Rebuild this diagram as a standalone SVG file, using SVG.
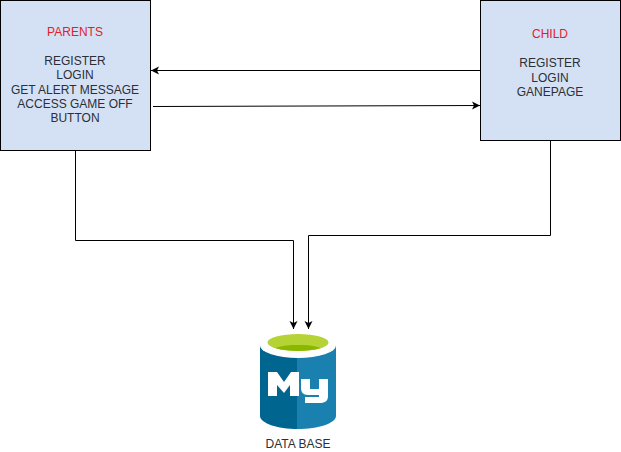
<svg xmlns="http://www.w3.org/2000/svg" width="621" height="452" viewBox="0 0 621 452">
<style>
.box{fill:#d4e1f5;stroke:#000;stroke-width:1}
.t{font-family:"Liberation Sans",Arial,sans-serif;font-size:12px;fill:#2b2f36;text-anchor:middle}
.r{fill:#e3202a}
.c{fill:none;stroke:#000;stroke-width:1}
</style>
<defs>
<marker id="a" markerUnits="userSpaceOnUse" markerWidth="10" markerHeight="10" refX="8" refY="5" orient="auto">
<path d="M0 1L8 5L0 9L2 5Z" fill="#000"/>
</marker>
</defs>
<rect width="621" height="452" fill="#fff"/>
<g id="connectors">
<path class="c" d="M480.500 70.500H151" marker-end="url(#a)"/>
<path class="c" d="M153 106.500L480 105.500" marker-end="url(#a)"/>
<path class="c" d="M75.500 150V240.500H293.500V329" marker-end="url(#a)"/>
<path class="c" d="M550.500 140V235.500H308.500V329" marker-end="url(#a)"/>
</g>
<g id="parents">
<rect class="box" x="0.500" y="0.500" width="150" height="150"/>
<text class="t r" x="75" y="36">PARENTS</text>
<text class="t" x="75" y="65">REGISTER</text>
<text class="t" x="75" y="79">LOGIN</text>
<text class="t" x="75" y="93.500">GET ALERT MESSAGE</text>
<text class="t" x="75" y="107.500">ACCESS GAME OFF</text>
<text class="t" x="75" y="121.500">BUTTON</text>
</g>
<g id="child">
<rect class="box" x="480.500" y="0.500" width="140" height="140"/>
<text class="t r" x="550" y="38">CHILD</text>
<text class="t" x="550" y="67">REGISTER</text>
<text class="t" x="550" y="82">LOGIN</text>
<text class="t" x="550" y="96">GANEPAGE</text>
</g>
<g id="database">
<path d="M260 345V416C260 423 277 429 298 429V345Z" fill="#00668f"/>
<path d="M297 345V429C319 429 336 423 336 416V345Z" fill="#1a80b0"/>
<ellipse cx="298" cy="345.500" rx="38" ry="12.500" fill="#fff"/>
<ellipse cx="298" cy="342.500" rx="30.500" ry="8.500" fill="#b5d334"/>
<path d="M275 348C282 345.500 290 345 298 345C306 345 314 345.500 321 348C314 350.300 306 351 298 351C290 351 282 350.300 275 348Z" fill="#8ab700"/>
<path d="M268 396V372H277L284 382L291 372H299V396H290V385L284 393L277 385V396Z" fill="#fff"/>
<path d="M301 379H310V389H319V379H328V396C328 401 325 403 320 403H305V397H319V395H308C303 395 301 392 301 388Z" fill="#fff"/>
<text class="t" x="298" y="448">DATA BASE</text>
</g>
</svg>
